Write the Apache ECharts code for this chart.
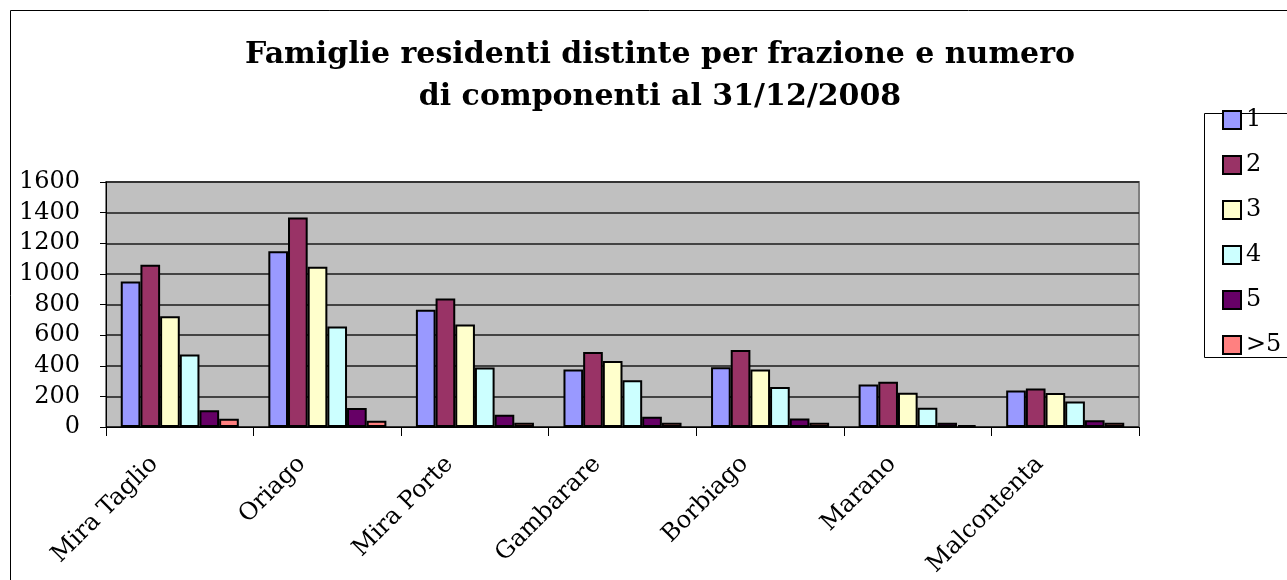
<!DOCTYPE html>
<html>
<head>
<meta charset="utf-8">
<script src="https://cdn.jsdelivr.net/npm/echarts@6/dist/echarts.min.js"></script>
<style>
  html, body { margin: 0; padding: 0; background: #fff; }
  #chart { width: 1287px; height: 580px; }
</style>
</head>
<body>
<div id="chart"></div>
<script>
// frazioni e famiglie per numero di componenti
const frazioni = ['Mira Taglio', 'Oriago', 'Mira Porte', 'Gambarare', 'Borbiago', 'Marano', 'Malcontenta'];
const comp1 = [950, 1147, 765, 375, 390, 278, 239];
const comp2 = [1060, 1368, 839, 490, 503, 295, 252];
const comp3 = [724, 1047, 670, 431, 375, 223, 222];
const comp4 = [473, 657, 388, 306, 262, 126, 167];
const comp5 = [110, 124, 80, 67, 56, 28, 44];
const compOltre5 = [54, 41, 28, 28, 28, 13, 28];

const nomiSerie = ['1', '2', '3', '4', '5', '>5'];
const colori = ['#9999FF', '#993366', '#FFFFCC', '#CCFFFF', '#660066', '#FF8080'];
const valori = [comp1, comp2, comp3, comp4, comp5, compOltre5];

const font = 'DejaVu Serif';

const myChart = echarts.init(document.getElementById('chart'));

const option = {
  animation: false,
  title: {
    text: 'Famiglie residenti distinte per frazione e numero\ndi componenti al 31/12/2008',
    left: 655,
    textAlign: 'center',
    top: 29,
    textStyle: {
      fontFamily: font,
      fontWeight: 'bold',
      fontSize: 30,
      lineHeight: 42,
      color: '#000'
    }
  },
  legend: {
    orient: 'vertical',
    left: 1217,
    top: 103,
    itemWidth: 18,
    itemHeight: 18,
    itemGap: 21,
    icon: 'rect',
    data: nomiSerie,
    textStyle: { fontFamily: font, fontSize: 24, color: '#000' }
  },
  graphic: [
    {
      type: 'rect',
      shape: { x: 10.5, y: 10.5, width: 1300, height: 600 },
      style: { fill: 'none', stroke: '#000', lineWidth: 1 },
      silent: true
    },
    {
      type: 'rect',
      shape: { x: 1204.5, y: 113.5, width: 120, height: 244 },
      style: { fill: 'none', stroke: '#000', lineWidth: 1 },
      silent: true
    }
  ],
  grid: {
    left: 106,
    right: 148,
    top: 182,
    bottom: 153,
    show: true,
    backgroundColor: '#C0C0C0',
    borderColor: '#808080',
    borderWidth: 2
  },
  xAxis: {
    type: 'category',
    data: frazioni,
    axisLine: { lineStyle: { color: '#000', width: 1 } },
    axisTick: { show: true, length: 9, lineStyle: { color: '#000' } },
    axisLabel: {
      rotate: 45,
      interval: 0,
      margin: 8,
      padding: [0, 36, 0, 0],
      fontFamily: font,
      fontSize: 24,
      color: '#000'
    }
  },
  yAxis: {
    type: 'value',
    min: 0,
    max: 1600,
    interval: 200,
    axisLine: { show: true, lineStyle: { color: '#000', width: 1 } },
    axisTick: { show: true, length: 6, lineStyle: { color: '#000' } },
    axisLabel: {
      margin: 26,
      fontFamily: font,
      fontSize: 24,
      color: '#000',
      formatter: v => String(v)
    },
    splitLine: { lineStyle: { color: '#1a1a1a', width: 1.5 } }
  },
  series: nomiSerie.map((nome, i) => ({
    name: nome,
    type: 'bar',
    data: valori[i],
    barGap: '0%',
    barCategoryGap: '20%',
    itemStyle: {
      color: colori[i],
      borderColor: '#000',
      borderWidth: 2
    }
  }))
};

myChart.setOption(option);
</script>
</body>
</html>
